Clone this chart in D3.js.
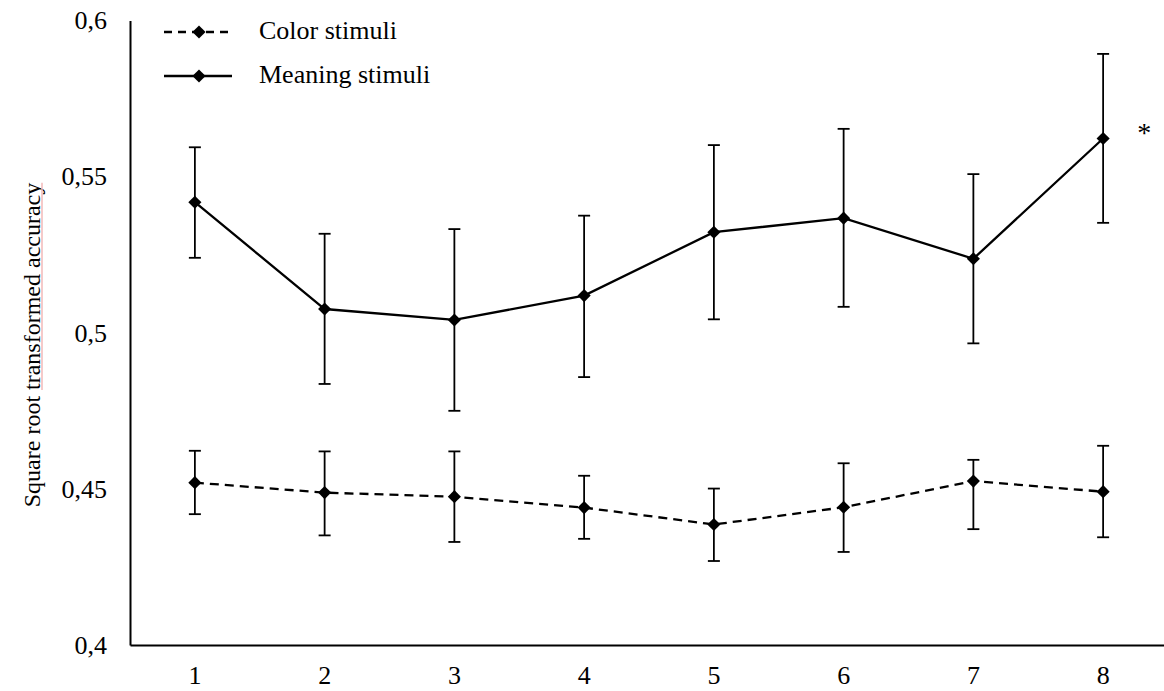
<!DOCTYPE html>
<html><head><meta charset="utf-8">
<script src="https://cdn.jsdelivr.net/npm/d3@7"></script>
<style>html,body{margin:0;padding:0;background:#fff;}svg{display:block;font-family:"Liberation Serif","Times New Roman",serif;}</style>
</head><body>
<svg id="c" width="1164" height="691"></svg>
<script>
const categories = ["1","2","3","4","5","6","7","8"];
const colorMean  = [0.4520, 0.4488, 0.4475, 0.4440, 0.4386, 0.4441, 0.4525, 0.4491];
const colorUpper = [0.4622, 0.4620, 0.4620, 0.4542, 0.4501, 0.4582, 0.4593, 0.4638];
const colorLower = [0.4419, 0.4351, 0.4330, 0.4340, 0.4269, 0.4298, 0.4371, 0.4345];
const meaningMean  = [0.5418, 0.5076, 0.5041, 0.5119, 0.5322, 0.5367, 0.5237, 0.5622];
const meaningUpper = [0.5594, 0.5317, 0.5332, 0.5375, 0.5601, 0.5653, 0.5508, 0.5893];
const meaningLower = [0.5240, 0.4836, 0.4750, 0.4858, 0.5043, 0.5083, 0.4966, 0.5352];
const yTicks = [0.4, 0.45, 0.5, 0.55, 0.6];
const yTickLabels = ["0,4", "0,45", "0,5", "0,55", "0,6"];
const seriesNames = ["Color stimuli", "Meaning stimuli"];
const yTitle = "Square root transformed accuracy";

const svg = d3.select("#c");
const x = d3.scaleBand().domain(categories).range([130, 1168]);
const y = d3.scaleLinear().domain([0.4, 0.6]).range([645, 20.5]);
const cx = c => x(c) + x.bandwidth() / 2;

// axes
const yAxis = d3.axisLeft(y).tickValues(yTicks).tickSize(0).tickPadding(23)
  .tickFormat((d, i) => yTickLabels[i]);
const gy = svg.append("g").attr("transform", "translate(130,0)").call(yAxis);
gy.attr("font-family", null).attr("font-size", null);
gy.select(".domain").attr("stroke", "#000").attr("stroke-width", 2);
gy.selectAll("text").attr("font-size", 26).attr("fill", "#000");

const xAxis = d3.axisBottom(x).tickSize(0).tickPadding(21);
const gx = svg.append("g").attr("transform", "translate(0,645)").call(xAxis);
gx.attr("font-family", null).attr("font-size", null);
gx.select(".domain").attr("stroke", "#000").attr("stroke-width", 2);
gx.selectAll("text").attr("font-size", 26).attr("fill", "#000");

// y title
const yt = svg.append("text").attr("transform", "translate(40,345) rotate(-90)")
  .attr("text-anchor", "middle").attr("font-size", 24).attr("fill", "#000").text(yTitle);
try {
  const node = yt.node();
  const full = node.getComputedTextLength();
  const idx = yTitle.indexOf("transformed");
  const pre = node.getSubStringLength(0, idx);
  const sub = node.getSubStringLength(idx, yTitle.length - idx);
  const startX = -full / 2 + pre;
  svg.append("line").attr("transform", "translate(42,345) rotate(-90)")
    .attr("x1", startX).attr("x2", startX + sub).attr("y1", 0).attr("y2", 0)
    .attr("stroke", "#f2b8b8").attr("stroke-width", 1.5);
} catch (e) {}

const diamond = d3.symbol().type(d3.symbolDiamond2).size(110);

function drawSeries(mean, upper, lower, dash) {
  const g = svg.append("g");
  const pts = categories.map((c, i) => ({c, m: mean[i], u: upper[i], l: lower[i]}));
  g.selectAll("line.eb").data(pts).join("line").attr("class", "eb")
    .attr("x1", d => cx(d.c)).attr("x2", d => cx(d.c))
    .attr("y1", d => y(d.u)).attr("y2", d => y(d.l))
    .attr("stroke", "#000").attr("stroke-width", 1.8);
  ["u", "l"].forEach(k => {
    g.selectAll("line.cap" + k).data(pts).join("line").attr("class", "cap" + k)
      .attr("x1", d => cx(d.c) - 6).attr("x2", d => cx(d.c) + 6)
      .attr("y1", d => y(d[k])).attr("y2", d => y(d[k]))
      .attr("stroke", "#000").attr("stroke-width", 1.8);
  });
  g.append("path").datum(pts)
    .attr("d", d3.line().x(d => cx(d.c)).y(d => y(d.m)))
    .attr("fill", "none").attr("stroke", "#000").attr("stroke-width", 2.3)
    .attr("stroke-dasharray", dash ? "9,6" : null);
  g.selectAll("path.mk").data(pts).join("path").attr("class", "mk")
    .attr("transform", d => `translate(${cx(d.c)},${y(d.m)})`)
    .attr("d", diamond).attr("fill", "#000");
}
drawSeries(colorMean, colorUpper, colorLower, true);
drawSeries(meaningMean, meaningUpper, meaningLower, false);

// asterisk
svg.append("text").attr("x", cx("8") + 41).attr("y", 142).attr("text-anchor", "middle")
  .attr("font-size", 28).attr("fill", "#000").text("*");

// legend
const legend = svg.append("g");
seriesNames.forEach((name, i) => {
  const ly = 32 + i * 44;
  legend.append("line").attr("x1", 164).attr("x2", 232).attr("y1", ly).attr("y2", ly)
    .attr("stroke", "#000").attr("stroke-width", 2.3)
    .attr("stroke-dasharray", i === 0 ? "8,6" : null);
  legend.append("path").attr("transform", `translate(199,${ly})`).attr("d", diamond).attr("fill", "#000");
  legend.append("text").attr("x", 259).attr("y", ly + 7).attr("font-size", 26)
    .attr("fill", "#000").text(name);
});
</script>
</body></html>
